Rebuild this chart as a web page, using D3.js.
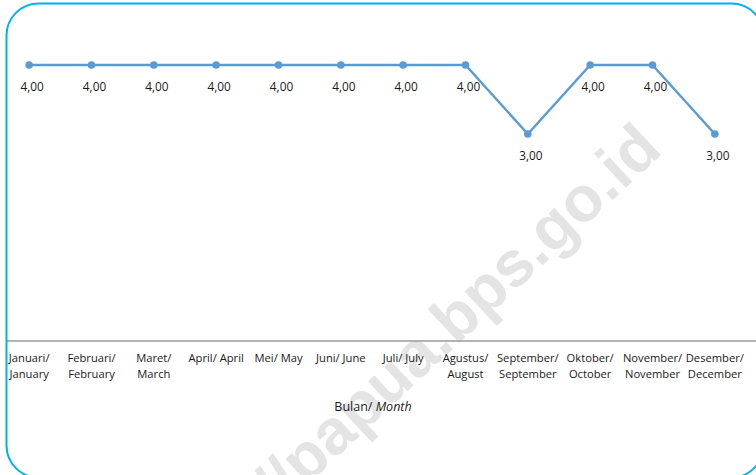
<!DOCTYPE html>
<html>
<head>
<meta charset="utf-8">
<script src="https://cdn.jsdelivr.net/npm/d3@7"></script>
<style>
    body { margin: 0; background: #fff; }
    svg text { font-family: "Open Sans", "Noto Sans", sans-serif; fill: #1a1a1a; }
</style>
</head>
<body>
<svg id="svg"></svg>
<script>
// month labels, two lines each (Indonesian / English)
let monthLine1 = ["Januari/", "Februari/", "Maret/", "April/ April", "Mei/ May", "Juni/ June",
    "Juli/ July", "Agustus/", "September/", "Oktober/", "November/", "Desember/"];
let monthLine2 = ["January", "February", "March", "", "", "",
    "", "August", "September", "October", "November", "December"];
let values = [4, 4, 4, 4, 4, 4, 4, 4, 3, 4, 4, 3];

const width = 756;
const height = 475;

let svg = d3.select("#svg")
    .attr("width", width)
    .attr("height", height);

let data = values.map((v, i) => ({ month: monthLine1[i] + "|" + i, l1: monthLine1[i], l2: monthLine2[i], value: v }));

let xScale = d3.scaleBand()
    .domain(data.map(d => d.month))
    .range([-2, 746])
    .padding(0);

let yScale = d3.scaleLinear()
    .domain([0, 4])
    .range([341, 65]);

let cx = d => xScale(d.month) + xScale.bandwidth() / 2;

// watermark
svg.append("text")
    .attr("transform", "translate(664,152) rotate(-43)")
    .attr("text-anchor", "end")
    .style("font-family", "Liberation Sans, Arial, sans-serif")
    .style("font-weight", "bold")
    .style("font-size", "64px")
    .style("fill", "#e4e4e4")
    .text("https://papua.bps.go.id");

// x axis line
svg.append("line")
    .attr("x1", 7)
    .attr("x2", width)
    .attr("y1", yScale(0))
    .attr("y2", yScale(0))
    .attr("stroke", "#9a9a9a")
    .attr("stroke-width", 1.3);

// month labels
let ticks = svg.append("g").selectAll("text")
    .data(data)
    .join("text")
    .attr("x", cx)
    .attr("text-anchor", "middle")
    .style("font-size", "11.2px");

ticks.append("tspan")
    .attr("x", cx)
    .attr("y", 362)
    .text(d => d.l1);

ticks.append("tspan")
    .attr("x", cx)
    .attr("y", 378)
    .text(d => d.l2);

// axis title
let title = svg.append("text")
    .attr("x", 373)
    .attr("y", 411)
    .attr("text-anchor", "middle")
    .style("font-size", "12.5px");
title.append("tspan").text("Bulan/ ");
title.append("tspan").style("font-style", "italic").text("Month");

// the line
let line = d3.line()
    .x(cx)
    .y(d => yScale(d.value));

svg.append("path")
    .datum(data)
    .attr("d", line)
    .attr("fill", "none")
    .attr("stroke", "#5b9bd5")
    .attr("stroke-width", 2.5)
    .attr("stroke-linejoin", "round");

svg.append("g").selectAll("circle")
    .data(data)
    .join("circle")
    .attr("cx", cx)
    .attr("cy", d => yScale(d.value))
    .attr("r", 3.8)
    .attr("fill", "#5b9bd5");

// data labels
svg.append("g").selectAll("text")
    .data(data)
    .join("text")
    .attr("x", d => cx(d) + 3)
    .attr("y", d => yScale(d.value) + 26)
    .attr("text-anchor", "middle")
    .style("font-size", "11.8px")
    .text(d => d3.format(".2f")(d.value).replace(".", ","));

// rounded border
svg.append("rect")
    .attr("x", 6.5)
    .attr("y", 3.5)
    .attr("width", 757)
    .attr("height", 474)
    .attr("rx", 32)
    .attr("fill", "none")
    .attr("stroke", "#00b0f0")
    .attr("stroke-width", 2);
</script>
</body>
</html>
